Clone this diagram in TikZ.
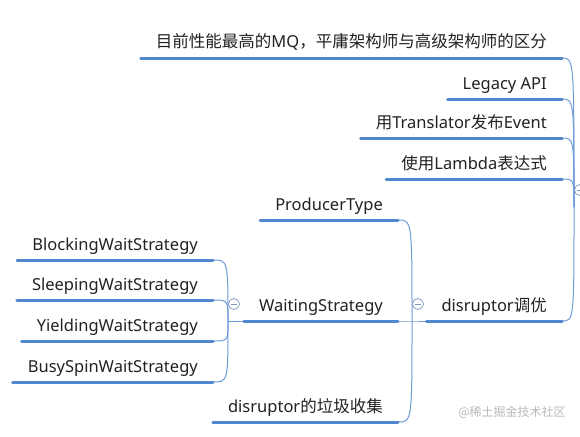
\documentclass[tikz,border=0pt]{standalone}
\usepackage{fontspec}
\setmainfont{Noto Sans}
\newfontfamily\cjk{Noto Sans CJK SC}
\definecolor{ublue}{RGB}{80,135,208}
\definecolor{cblue}{RGB}{110,155,215}
\definecolor{fgray}{RGB}{120,150,190}
\definecolor{txt}{RGB}{34,34,34}
\definecolor{wmgray}{RGB}{185,185,185}
\newcommand\mmbranch[4]{%
  \node[lbl] (#1) at (#2,#3-10) {#4};
  \coordinate (#1e) at ([yshift=-10pt]#1.base east);
  \coordinate (#1w) at ([yshift=-10pt]#1.base west);
}
\begin{document}
\begin{tikzpicture}[x=1pt,y=-1pt,
  lbl/.style={font=\fontsize{16.5}{18}\selectfont, text=txt, inner xsep=15pt, inner ysep=0pt, anchor=base east},
  uline/.style={draw=ublue, line width=3pt, line cap=round},
  conn/.style={draw=cblue, line width=1pt},
  fold/.style={circle, draw=fgray, fill=white, line width=0.7pt, minimum size=11pt, inner sep=0pt,
    path picture={\draw[fgray,line width=0.7pt] ([xshift=-2.8pt]path picture bounding box.center) -- ([xshift=2.8pt]path picture bounding box.center);}}
]
\useasboundingbox (0,0) rectangle (580,436);
\clip (0,0) rectangle (580,436);
\fill[white] (0,0) rectangle (580,436);

% top group
\mmbranch{t1}{562}{58}{{\cjk 目前性能最高的}MQ{\cjk ，平庸架构师与高级架构师的区分}}
\mmbranch{t2}{562}{99}{Legacy API}
\mmbranch{t3}{562}{138}{{\cjk 用}Translator{\cjk 发布}Event}
\mmbranch{t4}{562}{179}{{\cjk 使用}Lambda{\cjk 表达式}}
\mmbranch{d}{562}{321}{disruptor{\cjk 调优}}
% disruptor children
\mmbranch{p}{398}{220}{ProducerType}
\mmbranch{w}{398}{321}{WaitingStrategy}
\mmbranch{g}{398}{422}{disruptor{\cjk 的垃圾收集}}
% waiting strategies
\mmbranch{b1}{213}{260}{BlockingWaitStrategy}
\mmbranch{b2}{213}{300}{SleepingWaitStrategy}
\mmbranch{b3}{213}{341}{YieldingWaitStrategy}
\mmbranch{b4}{213}{382}{BusySpinWaitStrategy}

\coordinate (jA) at (574,207);
\coordinate (jB) at (412,321);
\coordinate (jC) at (228,321);

% connectors
\foreach \n in {t1,t2,t3,t4,d}{\draw[conn] (\n e) .. controls (jA |- \n e) .. (jA);}
\foreach \n in {p,g}{\draw[conn] (\n e) .. controls (jB |- \n e) .. (jB);}
\draw[conn] (we) -- (jB) -- (dw);
\foreach \n in {b1,b2,b3,b4}{\draw[conn] (\n e) .. controls (jC |- \n e) .. (jC);}
\draw[conn] (jC) -- (ww);

% underlines
\foreach \n in {t1,t2,t3,t4,d,p,w,g,b1,b2,b3,b4}{\draw[uline] (\n w) -- (\n e);}

% fold markers
\node[fold] (fA) at (580,190) {};
\node[fold] (fB) at (418,304) {};
\node[fold] (fC) at (234,304) {};

% watermark
\node[text=wmgray, font=\cjk\fontsize{12}{14}\selectfont, inner sep=0pt] (wm) at (512,412) {@稀土掘金技术社区};
\end{tikzpicture}
\end{document}
